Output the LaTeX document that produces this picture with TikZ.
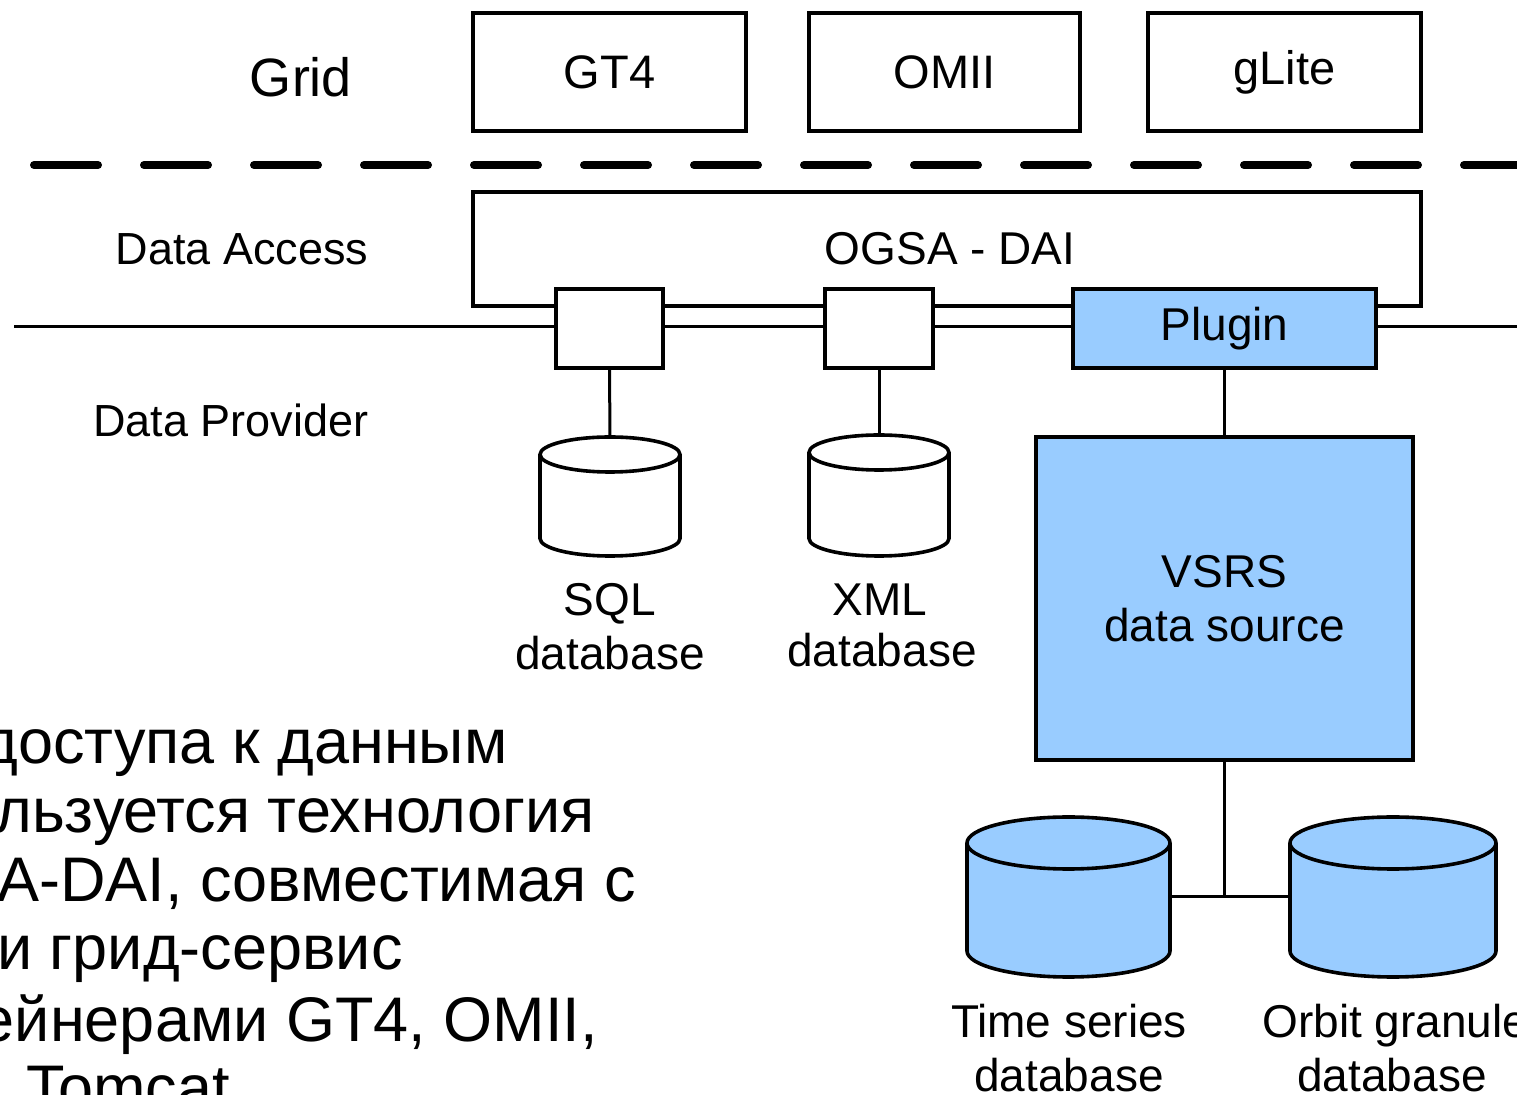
\documentclass[tikz,border=0pt]{standalone}
\usepackage{fontspec}
\setmainfont{Liberation Sans}
\definecolor{dbblue}{HTML}{99CCFF}
\tikzset{
  box/.style={draw, line width=1.8pt, inner sep=0pt, fill=white},
  bluebox/.style={box, fill=dbblue},
  conn/.style={line width=1.5pt},
  lbl/.style={inner sep=0pt, anchor=base},
  cyl/.style={line width=1.8pt},
  dbtext/.style={lbl, font=\fontsize{23}{28}\selectfont},
}
\newcommand\dbcyl[7]{%
  \path[draw, cyl, fill=#7] (#2-#5, -#3-#6) -- (#2-#5, -#4+#6)
    arc[start angle=180, end angle=360, x radius=#5*0.5pt, y radius=#6*0.5pt]
    -- (#2+#5, -#3-#6)
    arc[start angle=0, end angle=180, x radius=#5*0.5pt, y radius=#6*0.5pt] -- cycle;
  \draw[cyl] (#2-#5, -#3-#6) arc[start angle=180, end angle=360, x radius=#5*0.5pt, y radius=#6*0.5pt];
  \node[inner sep=0pt, minimum width={#5*1pt}, minimum height={(#4-#3)*0.5pt}] (#1) at (#2, {-(#3+#4)/2}) {};
}
\begin{document}
\begin{tikzpicture}[x=0.5pt, y=0.5pt]
\useasboundingbox (0,0) rectangle (1517,-1095);
\clip (0,0) rectangle (1517,-1095);
\fill[white] (0,0) rectangle (1517,-1095);

% Grid layer
\node[lbl, font=\fontsize{27}{32}\selectfont] (grid) at (301,-97) {Grid};
\node[box, minimum width=136.5pt, minimum height=59pt, font=\fontsize{23.5}{28}\selectfont] (gt4) at (609.5,-72) {GT4};
\node[box, minimum width=135.5pt, minimum height=59pt, font=\fontsize{23.5}{28}\selectfont] (omii) at (944.5,-72) {OMII};
\node[box, minimum width=136.5pt, minimum height=59pt, font=\fontsize{23.5}{28}\selectfont] (glite) at (1284.5,-72) {gLite};

% dashed separator
\coordinate (dashL) at (34,-165);
\coordinate (dashR) at (1560,-165);
\draw[line width=4pt, line cap=round, dash pattern=on 32pt off 23pt] (dashL) -- (dashR);

% layer separator line
\coordinate (sepL) at (14,-327);
\coordinate (sepR) at (1530,-327);
\draw[conn] (sepL) -- (sepR);

% OGSA-DAI
\node[draw, line width=1.8pt, inner sep=0pt, minimum width=474pt, minimum height=57pt] (ogsa) at (947,-249) {};
\node[lbl, font=\fontsize{23}{28}\selectfont] at (950,-265) {OGSA - DAI};
\node[lbl, font=\fontsize{22.5}{27}\selectfont] (access) at (242,-265) {Data Access};
\node[lbl, font=\fontsize{22.5}{27}\selectfont] (provider) at (231,-437) {Data Provider};

\node[box, minimum width=53.5pt, minimum height=39.5pt] (sqlb) at (609.5,-328.5) {};
\node[box, minimum width=54pt, minimum height=39.5pt] (xmlb) at (879,-328.5) {};
\node[bluebox, minimum width=151.5pt, minimum height=39.5pt, font=\fontsize{23}{28}\selectfont] (plugin) at (1224.5,-328.5) {Plugin};

% databases
\dbcyl{sqldb}{610}{437}{556}{70}{17.5}{white}
\dbcyl{xmldb}{879}{435}{556}{70}{17.5}{white}
\draw[conn] (sqlb.south) -- (sqldb.north);
\draw[conn] (xmlb.south) -- (xmldb.north);
\node[dbtext] at (610,-616) {SQL};
\node[dbtext] at (610,-670) {database};
\node[dbtext] at (880,-616) {XML};
\node[dbtext] at (882,-667) {database};

% VSRS
\node[bluebox, minimum width=188.5pt, minimum height=161.5pt, align=center,
  font=\fontsize{23}{27}\selectfont] (vsrs) at (1224.5,-598.5) {VSRS\\data source};
\draw[conn] (plugin.south) -- (plugin.south |- vsrs.north);

\dbcyl{tsdb}{1068.5}{817}{977}{101.5}{26}{dbblue}
\dbcyl{orbdb}{1393}{817}{977}{103}{26}{dbblue}
\coordinate (junc) at (vsrs.south |- tsdb.east);
\draw[conn] (vsrs.south) -- (junc);
\draw[conn] (tsdb.east) -- (orbdb.west);
\node[dbtext] at (1069,-1038) {Time series};
\node[dbtext] at (1069,-1092) {database};
\node[dbtext, anchor=base west] at (1262,-1038) {Orbit granule};
\node[dbtext] at (1392,-1092) {database};

% Russian caption (cut off at the left and bottom)
\begin{scope}[every node/.style={inner sep=0pt, anchor=base east, font=\fontsize{31.5}{37}\selectfont}]
\node (r1) at (508,-764) {доступа к данным};
\node (r2) at (595,-833) {льзуется технология};
\node (r3) at (636,-902) {A-DAI, совместимая с};
\node (r4) at (403,-970) {и грид-сервис};
\node (r5) at (598,-1042) {ейнерами GT4, OMII,};
\node (r6) at (230,-1110) {Tomcat};
\end{scope}
\end{tikzpicture}
\end{document}
